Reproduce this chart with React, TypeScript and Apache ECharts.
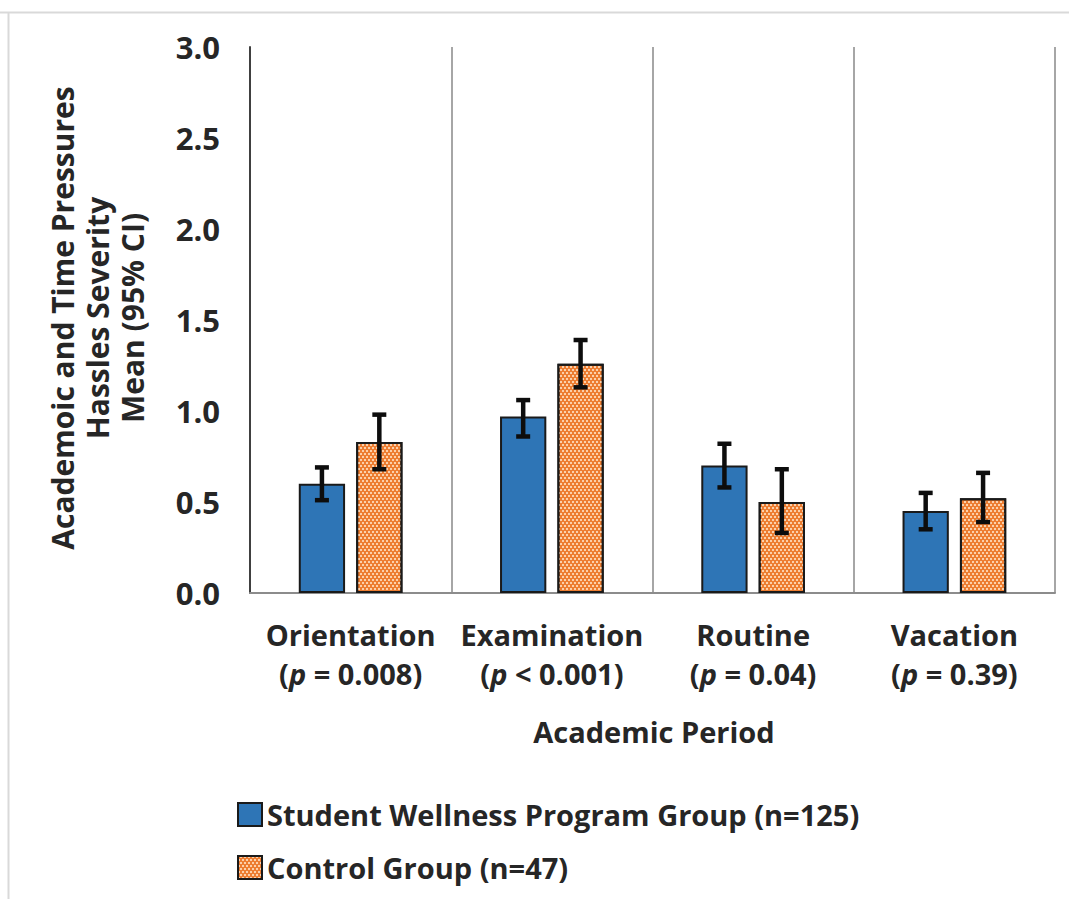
import React, { useEffect, useRef } from "react";
import * as echarts from "echarts";

const categories = ["Orientation", "Examination", "Routine", "Vacation"];
const pLabels = ["= 0.008", "< 0.001", "= 0.04", "= 0.39"];
const yTicks = [0, 0.5, 1.0, 1.5, 2.0, 2.5, 3.0];

const wellnessMean = [0.6, 0.97, 0.7, 0.45];
const wellnessLow = [0.51, 0.86, 0.58, 0.35];
const wellnessHigh = [0.69, 1.06, 0.82, 0.55];

const controlMean = [0.83, 1.26, 0.5, 0.52];
const controlLow = [0.68, 1.13, 0.33, 0.39];
const controlHigh = [0.98, 1.39, 0.68, 0.66];

const seriesNames = [
  "Student Wellness Program Group (n=125)",
  "Control Group (n=47)",
];

const FONT = "'Open Sans', sans-serif";
const TEXT = "#262626";
const BAR_W = 0.23;
const BAR_GAP = 0.24;

function errorSeries(low: number[], high: number[], side: number) {
  return {
    type: "custom",
    silent: true,
    z: 10,
    data: categories.map((_, i) => [i, low[i], high[i]]),
    renderItem: (params: any, api: any) => {
      const idx = api.value(0);
      const band = api.size([1, 0])[0];
      const off = side * ((BAR_W + BAR_W * BAR_GAP) / 2) * band;
      const pLow = api.coord([idx, api.value(1)]);
      const pHigh = api.coord([idx, api.value(2)]);
      const x = pLow[0] + off;
      const cap = 7;
      const style = { stroke: "#0d0d0d", lineWidth: 4.5 };
      return {
        type: "group",
        children: [
          { type: "line", shape: { x1: x, y1: pLow[1], x2: x, y2: pHigh[1] }, style },
          { type: "line", shape: { x1: x - cap, y1: pHigh[1], x2: x + cap, y2: pHigh[1] }, style },
          { type: "line", shape: { x1: x - cap, y1: pLow[1], x2: x + cap, y2: pLow[1] }, style },
        ],
      };
    },
  };
}

export default function App() {
  const ref = useRef<HTMLDivElement>(null);
  useEffect(() => {
    if (!ref.current) return;
    const chart = echarts.init(ref.current, undefined, { renderer: "svg" });
    const decal = {
      symbol: "rect",
      symbolSize: 1,
      color: "rgba(255,222,192,0.85)",
      dashArrayX: [[2, 2], [0, 2, 2, 0]],
      dashArrayY: [2, 1],
      rotation: 0,
    };
    chart.setOption({
      animation: false,
      backgroundColor: "#ffffff",
      textStyle: { fontFamily: FONT },
      grid: { left: 250, right: 14, top: 47, bottom: 306, containLabel: false },
      xAxis: {
        type: "category",
        data: categories,
        axisLine: { show: true, lineStyle: { color: "#8c8c8c", width: 2 } },
        axisTick: { show: false },
        splitLine: { show: true, interval: 0, lineStyle: { color: "#a6a6a6", width: 2 } },
        axisLabel: {
          interval: 0,
          margin: 22,
          formatter: (v: string) => {
            const i = categories.indexOf(v);
            return `{b|${v}}\n{b|(}{i|p}{b| ${pLabels[i]})}`;
          },
          rich: {
            b: { fontFamily: FONT, fontWeight: "bold", fontSize: 29, color: TEXT, lineHeight: 39 },
            i: { fontFamily: FONT, fontWeight: "bold", fontStyle: "italic", fontSize: 29, color: TEXT, lineHeight: 39 },
          },
        },
      },
      yAxis: {
        type: "value",
        min: 0,
        max: 3,
        interval: 0.5,
        axisLine: { show: true, lineStyle: { color: "#404040", width: 2 } },
        axisTick: { show: false },
        splitLine: { show: false },
        axisLabel: {
          margin: 30,
          fontFamily: FONT,
          fontWeight: "bold",
          fontSize: 31,
          color: TEXT,
          formatter: (v: number) => (yTicks.includes(v) ? v.toFixed(1) : ""),
        },
      },
      legend: {
        orient: "vertical",
        left: 232,
        top: 795,
        itemGap: 24,
        itemWidth: 24,
        itemHeight: 23,
        icon: "rect",
        textStyle: { fontFamily: FONT, fontWeight: "bold", fontSize: 29, color: TEXT },
        data: seriesNames,
      },
      graphic: [
        { type: "line", shape: { x1: 0, y1: 12.5, x2: 1069, y2: 12.5 }, style: { stroke: "#d9d9d9", lineWidth: 2 } },
        { type: "line", shape: { x1: 8.5, y1: 12, x2: 8.5, y2: 899 }, style: { stroke: "#d9d9d9", lineWidth: 2 } },
        {
          type: "text",
          x: 97,
          y: 318,
          rotation: Math.PI / 2,
          style: {
            text: "Academoic and Time Pressures\nHassles Severity\nMean (95% CI)",
            fontFamily: FONT,
            fontWeight: "bold",
            fontSize: 30,
            lineHeight: 35,
            fill: TEXT,
            align: "center",
            verticalAlign: "middle",
          },
        },
        {
          type: "text",
          x: 654,
          y: 731,
          style: {
            text: "Academic Period",
            fontFamily: FONT,
            fontWeight: "bold",
            fontSize: 29,
            fill: TEXT,
            align: "center",
            verticalAlign: "middle",
          },
        },
      ],
      series: [
        {
          name: seriesNames[0],
          type: "bar",
          data: wellnessMean,
          barWidth: `${BAR_W * 100}%`,
          barGap: `${BAR_GAP * 100}%`,
          itemStyle: { color: "#2E75B6", borderColor: "#1a1a1a", borderWidth: 2 },
        },
        {
          name: seriesNames[1],
          type: "bar",
          data: controlMean,
          barWidth: `${BAR_W * 100}%`,
          barGap: `${BAR_GAP * 100}%`,
          itemStyle: { color: "#ED7D31", borderColor: "#1a1a1a", borderWidth: 2, decal },
        },
        errorSeries(wellnessLow, wellnessHigh, -1),
        errorSeries(controlLow, controlHigh, 1),
      ],
    });
    return () => chart.dispose();
  }, []);
  return (
    <div
      ref={ref}
      style={{ position: "fixed", left: 0, top: 0, width: 1069, height: 899 }}
    />
  );
}
